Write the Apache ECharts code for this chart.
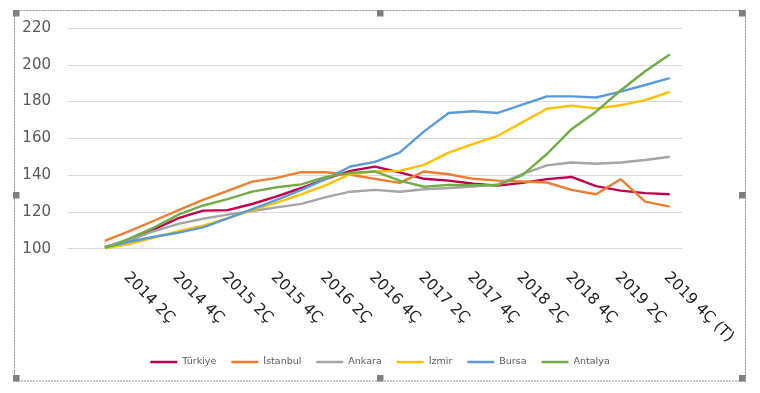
<!DOCTYPE html>
<html>
<head>
<meta charset="utf-8">
<script src="https://cdn.jsdelivr.net/npm/echarts@6/dist/echarts.min.js"></script>
<style>
html,body{margin:0;padding:0;background:#fff;}
#c{width:760px;height:393px;}
</style>
</head>
<body>
<div id="c"></div>
<script>
// Quarter categories (first category has no data, labels shown every other quarter)
const categories = ["2014 1Ç","2014 2Ç","2014 3Ç","2014 4Ç","2015 1Ç","2015 2Ç","2015 3Ç","2015 4Ç",
  "2016 1Ç","2016 2Ç","2016 3Ç","2016 4Ç","2017 1Ç","2017 2Ç","2017 3Ç","2017 4Ç",
  "2018 1Ç","2018 2Ç","2018 3Ç","2018 4Ç","2019 1Ç","2019 2Ç","2019 3Ç","2019 4Ç (T)","2020 1Ç (T)"];

const turkiye  = [null,101,104.5,110.5,116.6,120.7,121,124.3,128.5,133,138,142.3,144.6,141.5,138,137,135.3,134.3,135.8,137.8,139,134,131.6,130.2,129.6];
const istanbul = [null,104.2,109.5,115.2,121,126.5,131.5,136.5,138.5,141.6,141.6,140.2,138,135.8,142,140.5,138,137,136.5,136,132,129.6,137.8,125.6,122.9];
const ankara   = [null,100.8,104.5,109.5,113.5,116.3,118.5,120.5,122.5,124.4,128,131,132,131,132.3,133,133.8,135,140.5,145.3,146.9,146.2,146.9,148.2,150];
const izmir    = [null,100.2,102.5,106,109.5,112.5,116.5,121,125,129.5,134.5,140.5,142,142.3,145.6,152.2,157,161.4,168.7,176.1,177.8,176.3,178,180.8,185.2];
const bursa    = [null,100.8,103.8,106.5,108.7,111.6,116.5,121.5,126.5,132,138,144.7,147.2,152.2,163.8,173.8,174.7,173.8,178.3,182.8,182.8,182.2,185.4,189,192.7];
const antalya  = [null,100.5,105.5,111.5,118.5,123.5,127,131,133.4,135,139,141.2,142,137,133.7,134.7,134.5,134.5,140,151.5,165,174.5,186,196.5,205.6];

const seriesNames = ["Türkiye","İstanbul","Ankara","İzmir","Bursa","Antalya"];
const seriesData = [turkiye, istanbul, ankara, izmir, bursa, antalya];
const colors = ["#C0004F","#ED7D31","#A5A5A5","#FFC000","#5B9BD5","#70AD47"];

const yMin = 100, yMax = 220, yStep = 20;

const chart = echarts.init(document.getElementById('c'), null, {renderer:'canvas'});

const handles = [[13,10],[377,10],[739,10],[13,192],[739,192],[13,375],[377,375],[739,375]];

const option = {
  animation: false,
  color: colors,
  grid: {left: 68, right: 78, top: 28, bottom: 144.3, containLabel: false},
  xAxis: {
    type: 'category',
    data: categories,
    boundaryGap: true,
    axisLine: {show: true, lineStyle: {color: '#D9D9D9', width: 1}},
    axisTick: {show: false},
    axisLabel: {
      interval: function (i) { return i % 2 === 1; },
      rotate: -45,
      margin: 5,
      padding: [0, 0, 0, 30],
      color: '#1f1f1f',
      fontFamily: 'DejaVu Sans',
      fontSize: 15.5
    },
    splitLine: {show: false}
  },
  yAxis: {
    type: 'value',
    min: yMin, max: yMax, interval: yStep,
    axisLine: {show: false},
    axisTick: {show: false},
    axisLabel: {color: '#595959', fontFamily: 'DejaVu Sans', fontSize: 15, margin: 17},
    splitLine: {lineStyle: {color: '#D9D9D9', width: 1}}
  },
  legend: {
    data: seriesNames,
    left: 'center',
    top: 352,
    icon: 'rect',
    itemWidth: 27,
    itemHeight: 2.5,
    itemGap: 15,
    textStyle: {color: '#595959', fontFamily: 'DejaVu Sans', fontSize: 9.5}
  },
  series: seriesNames.map((n, i) => ({
    name: n,
    type: 'line',
    data: seriesData[i],
    symbol: 'none',
    showSymbol: false,
    lineStyle: {width: 2.4, color: colors[i]},
    itemStyle: {color: colors[i]}
  })),
  graphic: [
    {type: 'rect', shape: {x: 14.5, y: 10.5, width: 731, height: 370.5},
     style: {fill: 'none', stroke: '#8c8c8c', lineWidth: 1, lineDash: [2, 1]}, silent: true}
  ].concat(handles.map(h => ({
    type: 'rect', shape: {x: h[0], y: h[1], width: 6.5, height: 6.5},
    style: {fill: '#7f7f7f'}, silent: true
  })))
};
chart.setOption(option);
</script>
</body>
</html>
